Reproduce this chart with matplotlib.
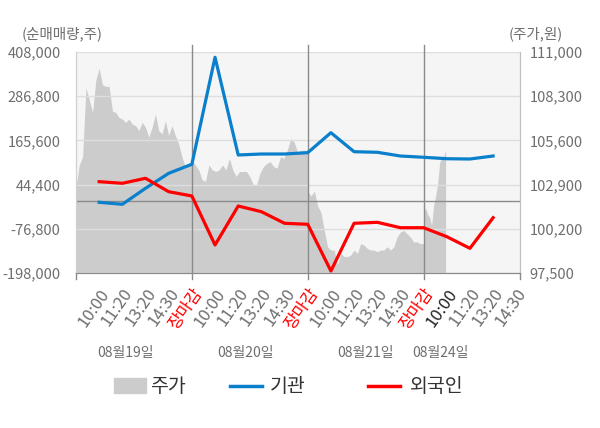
import numpy as np
import matplotlib
matplotlib.use('Agg')
import matplotlib.pyplot as plt
from matplotlib.patches import Rectangle
from matplotlib.lines import Line2D

plt.rcParams['font.family'] = ['Noto Sans CJK KR', 'DejaVu Sans']

# x tick labels (one slot each, slot 1..19)
tick_labels = ['10:00', '11:20', '13:20', '14:30', '장마감',
               '10:00', '11:20', '13:20', '14:30', '장마감',
               '10:00', '11:20', '13:20', '14:30', '장마감',
               '10:00', '11:20', '13:20', '14:30']
day_labels = ['08월19일', '08월20일', '08월21일', '08월24일']

# net buying (shares), slots 1..18
inst = [-4100, -9600, 34300, 75400, 100100,
        393500, 125600, 128300, 128300, 131900,
        186700, 134600, 133000, 122800, 119300,
        115400, 114600, 122800]
foreign = [52400, 48000, 61700, 24900, 13200,
           -121200, -14300, -29900, -61700, -64400,
           -192500, -61700, -59000, -73800, -73800,
           -98400, -130300, -46400]

# intraday price (won), per day
price_d1 = [102800, 104100, 104600, 108800, 108100, 107300, 109300, 110000, 109000,
            108900, 108900, 107400, 107300, 107000, 106900, 106700, 106900, 106600,
            106500, 106200, 106700, 106400, 105800, 106400, 107200, 106200, 106000,
            106800, 105900, 106500, 105900, 105400, 104600, 104000, 104100, 104200]
price_d2 = [104400, 104100, 103800, 103200, 103100, 104100, 103800, 103700, 103800,
            104100, 103800, 104500, 103800, 103400, 103700, 103700, 103700, 103400,
            102900, 102900, 103600, 104000, 104200, 104300, 104000, 103900, 104600,
            104500, 105000, 105700, 105500, 104900, 105000, 105000, 105000]
price_d3 = [102500, 102200, 102500, 101600, 101200, 100100, 99100, 98900, 98900,
            98000, 98700, 98500, 98500, 98600, 98900, 98700, 99300, 99200,
            99000, 98900, 98900, 98800, 98900, 98900, 99100, 98900, 99100,
            99700, 100000, 100100, 99900, 99700, 99400, 99400, 99300, 99300]
price_d4 = [101100, 101500, 101100, 100900, 100400, 101600, 102200, 102900,
            104200, 104600, 104600, 105000]

left_ticks = [-198000, -76800, 44400, 165600, 286800, 408000]
right_ticks = [97500, 100200, 102900, 105600, 108300, 111000]

BLUE = '#0a7fcb'
RED = '#ff0000'
GREY = '#6e6e6e'
LINE = '#8a8a8a'
XMAX = 19.16

fig = plt.figure(figsize=(6, 4.28), dpi=100)
ax = fig.add_axes([76/600, 1-273/428, 444/600, 221/428])
ax.set_facecolor('#f5f5f5')
axl = ax.twinx()

# price area (right axis)
px = np.concatenate([np.linspace(0, 5, len(price_d1)),
                     np.linspace(5, 10, len(price_d2)),
                     np.linspace(10, 15, len(price_d3)),
                     np.linspace(15, 15.95, len(price_d4))])
py = np.concatenate([price_d1, price_d2, price_d3, price_d4])
ax.fill_between(px, py, right_ticks[0], color='#cccccc', lw=0)
ax.set_ylim(right_ticks[0], right_ticks[-1])
ax.set_xlim(0, XMAX)
ax.yaxis.tick_right()
ax.set_yticks(right_ticks, [f'{v:,}' for v in right_ticks])
ax.tick_params(axis='y', length=0, pad=7, labelsize=10.5, labelcolor=GREY)

# net buying lines (left axis)
axl.yaxis.tick_left()
axl.set_ylim(left_ticks[0], left_ticks[-1])
axl.set_yticks(left_ticks, [f'{v:,}' for v in left_ticks])
axl.tick_params(axis='y', length=0, pad=11, labelsize=10.5, labelcolor=GREY)
axl.grid(axis='y', color='#dedede', lw=1)
axl.axhline(0, color=LINE, lw=1)
for d in [5, 10, 15]:
    axl.axvline(d, ymin=-0.025, ymax=1.03, color=LINE, lw=1, clip_on=False)
for d in [0, XMAX]:
    axl.axvline(d, ymin=-0.025, ymax=0, color=LINE, lw=1, clip_on=False)

slots = np.arange(1, len(inst) + 1)
axl.plot(slots, inst, color=BLUE, lw=2.3)
axl.plot(slots, foreign, color=RED, lw=2.3)

for a in (ax, axl):
    a.spines['top'].set_visible(False)
    a.spines['left'].set_color('#d0d0d0')
    a.spines['right'].set_color('#c0c0c0')
    a.spines['bottom'].set_color(LINE)

# x tick labels
ax.set_xticks(np.arange(1, len(tick_labels) + 1), tick_labels,
              rotation=55, ha='right', va='top', rotation_mode='anchor')
ax.tick_params(axis='x', length=0, pad=9, labelsize=12, labelcolor=GREY)
for lab in ax.get_xticklabels():
    if lab.get_text() == '장마감':
        lab.set_color(RED)
ax.get_xticklabels()[15].set_color('#222222')

for xs, t in zip([2.12, 7.3, 12.48, 15.72], day_labels):
    ax.text(xs, -0.36, t, transform=ax.get_xaxis_transform(), ha='center', va='center',
            fontsize=10, color=GREY)

fig.text(22/600, 1-34/428, '(순매매량,주)', ha='left', va='center', fontsize=10.5, color=GREY)
fig.text(509/600, 1-34/428, '(주가,원)', ha='left', va='center', fontsize=10.5, color=GREY)

# legend
ly = 1 - 386/428
fig.patches.append(Rectangle((114/600, 1-393/428), 32/600, 15/428,
                             transform=fig.transFigure, color='#cccccc'))
fig.text(150/600, ly, '주가', va='center', fontsize=14, color='#333333')
fig.lines.append(Line2D([230/600, 262/600], [ly, ly], transform=fig.transFigure, color=BLUE, lw=2.5))
fig.text(270/600, ly, '기관', va='center', fontsize=14, color='#333333')
fig.lines.append(Line2D([368/600, 400/600], [ly, ly], transform=fig.transFigure, color=RED, lw=2.5))
fig.text(410/600, ly, '외국인', va='center', fontsize=14, color='#333333')

fig.savefig('out.png', dpi=100)
